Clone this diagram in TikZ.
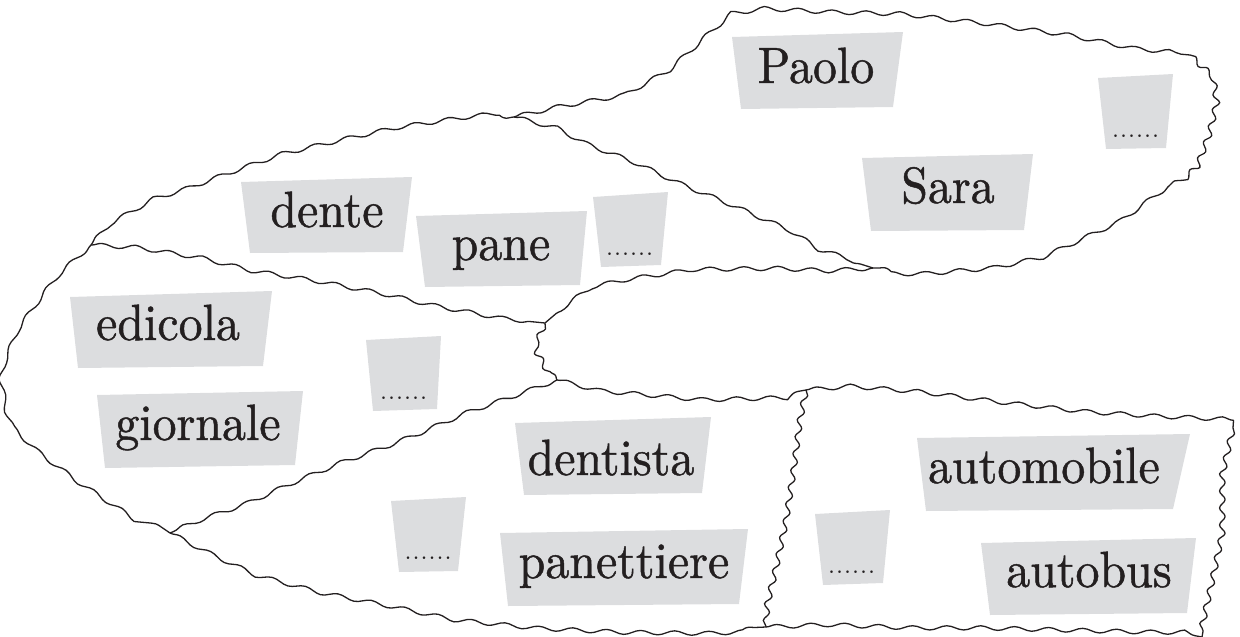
\documentclass[tikz,border=0pt]{standalone}
\usetikzlibrary{decorations.pathmorphing}
\definecolor{boxgrey}{HTML}{DCDDDF}
\definecolor{inkc}{HTML}{231F20}
\font\wordfont="[lmroman10-regular]:embolden=0.9;extend=0.94" at 51pt
\begin{document}
\begin{tikzpicture}[x=1pt,y=-1pt,
  wavy/.style={draw=inkc, line width=1.3pt, line join=round,
    decorate, decoration={snake, amplitude=2.1pt, segment length=34pt}},
  wavytight/.style={draw=inkc, line width=1.3pt, line join=round,
    decorate, decoration={snake, amplitude=2.8pt, segment length=17pt}},
  card/.style={fill=boxgrey},
  word/.style={anchor=base, inner sep=0pt, text=inkc, font=\wordfont},
  dots/.style={anchor=base, inner sep=0pt, text=inkc, font=\fontsize{32}{36}\selectfont}]
\useasboundingbox (0,0) rectangle (1240,637);

% ---- grey cards ----
\fill[card] (732,37) -- (903,32) -- (893,107) -- (741,109) -- cycle;
\fill[card] (1098,78) -- (1173,74) -- (1166,148) -- (1106,149) -- cycle;
\fill[card] (862,158) -- (1033,154) -- (1024,230) -- (871,231) -- cycle;
\fill[card] (241,182) -- (412,177) -- (403,252) -- (250,253) -- cycle;
\fill[card] (416,216) -- (587,211) -- (580,285) -- (425,287) -- cycle;
\fill[card] (593,197) -- (668,192) -- (661,265) -- (601,267) -- cycle;
\fill[card] (70,297) -- (272,291) -- (263,366) -- (78,368) -- cycle;
\fill[card] (97,395) -- (303,391) -- (295,465) -- (105,468) -- cycle;
\fill[card] (366,340) -- (441,336) -- (437,409) -- (373,411) -- cycle;
\fill[card] (515,423) -- (711,417) -- (702,493) -- (524,495) -- cycle;
\fill[card] (391,501) -- (466,497) -- (458,571) -- (399,572) -- cycle;
\fill[card] (500,533) -- (748,529) -- (739,604) -- (508,606) -- cycle;
\fill[card] (917,438) -- (1190,434) -- (1173,509) -- (926,511) -- cycle;
\fill[card] (815,514) -- (890,510) -- (883,583) -- (823,585) -- cycle;
\fill[card] (981,543) -- (1196,538) -- (1187,613) -- (990,615) -- cycle;

% ---- labels ----
\node[word] (paolo) at (816,83) {Paolo};
\node[word] (sara) at (948,203) {Sara};
\node[dots] (dotsA) at (1135.5,137) {......};
\node[word] (dente) at (327,227) {dente};
\node[word] (pane) at (501,260) {pane};
\node[dots] (dotsM) at (629.5,255) {......};
\node[word] (edicola) at (168,340) {edicola};
\node[word] (giornale) at (198,440) {giornale};
\node[dots] (dotsB) at (403.5,399) {......};
\node[word] (dentista) at (611,475) {dentista};
\node[word] (panettiere) at (624,578) {panettiere};
\node[dots] (dotsC) at (428,559) {......};
\node[word] (automobile) at (1044,483) {automobile};
\node[word] (autobus) at (1089,587) {autobus};
\node[dots] (dotsD) at (851.5,573) {......};

% ---- region boundaries ----
% middle region, top edge
\draw[wavy] plot coordinates {(91,245) (107,227) (142,207) (178,196) (221,180) (277,160) (336,146) (395,133) (455,124) (514,117)};
% region A, outer edge
\draw[wavy] plot coordinates {(514,117) (553,108) (620,96) (663,72) (700,38) (727,14) (760,9) (818,12) (897,14) (976,23) (1055,34) (1134,50) (1190,55)};
\draw[wavytight] plot coordinates {(1190,55) (1209,73) (1213,100) (1205,133) (1195,160) (1170,185)};
\draw[wavy] plot coordinates {(1170,185) (1126,217) (1055,250) (995,263) (936,268) (873,268)};
% region A, inner (lower-left) edge
\draw[wavy] plot coordinates {(514,117) (545,125) (573,140) (620,158) (667,180) (723,203) (778,227) (810,248) (873,268)};
% middle region, lower right edge
\draw[wavy] plot coordinates {(873,268) (841,270) (778,267) (699,268) (640,277) (593,287) (561,310) (545,323)};
% middle region, bottom edge
\draw[wavy] plot coordinates {(91,245) (130,247) (198,258) (245,270) (308,280) (375,293) (435,307) (494,318) (545,323)};
% short separator
\draw[wavytight] plot coordinates {(545,323) (539,337) (541,352) (549,366) (557,380)};
% region B, left edge
\draw[wavy] plot coordinates {(91,245) (67,267) (47,293) (28,320) (12,360) (8,377) (12,400) (20,420) (51,450) (91,480) (126,503) (170,533)};
% diagonal between B and C
\draw[wavy] plot coordinates {(557,380) (522,393) (474,410) (435,427) (395,443) (356,457) (308,477) (257,500) (209,517) (170,533)};
% region C, bottom edge
\draw[wavy] plot coordinates {(170,533) (209,553) (245,570) (308,587) (375,600) (455,617) (534,625) (620,629) (699,630) (766,627)};
% region C, top edge
\draw[wavy] plot coordinates {(557,380) (585,387) (620,390) (699,397) (778,395) (806,390)};
% separator between C and D
\draw[wavytight] plot coordinates {(806,390) (800,420) (794,467) (786,520) (776,567) (768,600) (766,627)};
% region D, top edge
\draw[wavy] plot coordinates {(806,390) (841,387) (916,393) (995,403) (1075,412) (1154,417) (1225,420) (1233,428)};
% region D, right edge
\draw[wavytight] plot coordinates {(1233,428) (1224,467) (1224,533) (1214,580) (1205,620) (1202,637)};
% region D, bottom edge
\draw[wavy] plot coordinates {(766,627) (818,625) (897,628) (976,628) (1055,630) (1134,632) (1175,632) (1202,637)};
\end{tikzpicture}
\end{document}
